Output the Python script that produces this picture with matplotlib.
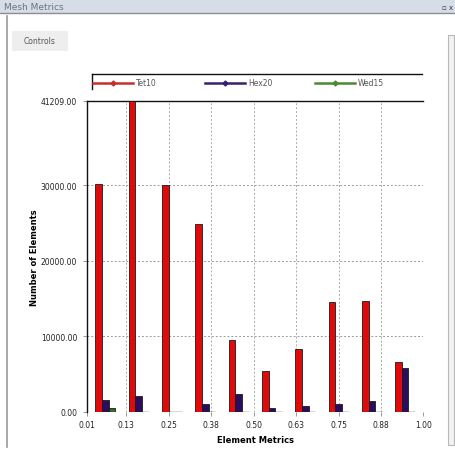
import matplotlib.pyplot as plt
import numpy as np
from matplotlib.patches import Rectangle
from matplotlib.lines import Line2D

# Mesh metrics histogram (element counts per metric bin)
series_names = ['Tet10', 'Hex20', 'Wed15']
tet10 = [30170, 41209, 30040, 24870, 9550, 5440, 8320, 14500, 14680, 6640]
hex20 = [1560, 2050, 0, 1030, 2400, 500, 730, 1030, 1390, 5800]
wed15 = [500, 0, 0, 0, 0, 0, 0, 0, 0, 0]
x_ticks = [0.01, 0.125, 0.25, 0.375, 0.5, 0.625, 0.75, 0.875, 1.0]
x_tick_labels = ['0.01', '0.13', '0.25', '0.38', '0.50', '0.63', '0.75', '0.88', '1.00']
y_ticks = [0, 10000, 20000, 30000, 41209]
y_tick_labels = ['0.00', '10000.00', '20000.00', '30000.00', '41209.00']

bar_colors = ['#e00a0a', '#2c0c5c', '#2f6e1c']
legend_colors = ['#c43030', '#3a1e74', '#4a8a30']

fig = plt.figure(figsize=(4.56, 4.52), dpi=100)

# window chrome
W, H = 456.0, 452.0
def px(x, y, w, h):
    return (x / W, 1 - (y + h) / H, w / W, h / H)

fig.patches.append(Rectangle((0, 1 - 14 / H), 1, 14 / H, transform=fig.transFigure,
                             facecolor='#d6dde6', edgecolor='none'))
fig.lines.append(Line2D([0, 1], [1 - 14 / H, 1 - 14 / H], transform=fig.transFigure,
                        color='#8a8f96', lw=1))
fig.text(4 / W, 1 - 7.5 / H, 'Mesh Metrics', fontsize=6.5, color='#6a7480',
         va='center', ha='left')
fig.text(442 / W, 1 - 7.5 / H, '\u25ab x', fontsize=5, color='#333333',
         va='center', ha='left')
# left border
fig.lines.append(Line2D([7 / W, 7 / W], [1 - 448 / H, 1 - 17 / H], transform=fig.transFigure,
                        color='#9a9a9a', lw=1.2))
# Controls button
x0, y0, w0, h0 = px(12, 32, 56, 20)
fig.patches.append(Rectangle((x0, y0), w0, h0, transform=fig.transFigure,
                             facecolor='#eeeeee', edgecolor='none'))
fig.text(40 / W, 1 - 42 / H, 'Controls', fontsize=5.5, color='#555555',
         va='center', ha='center')
# scrollbar
x0, y0, w0, h0 = px(448, 36, 6, 410)
fig.patches.append(Rectangle((x0, y0), w0, h0, transform=fig.transFigure,
                             facecolor='#f2f2f2', edgecolor='#b8b8b8', lw=0.8))

# plot area
ax = fig.add_axes([87 / W, 1 - 412.8 / H, 336.5 / W, 311.1 / H])
ax.set_xlim(0.01, 1.0)
ax.set_ylim(0, 41209)

n = len(tet10)
bin_w = 0.098
centers = 0.064 + bin_w * np.arange(n)
bw = 0.0196
for k, vals in enumerate([tet10, hex20, wed15]):
    xs = centers + (k - 1) * bw
    ax.bar(xs, vals, bw, color=bar_colors[k],
           edgecolor='#1a1a1a', linewidth=0.6, zorder=3)
    # empty bins still show a dark base line
    v = np.array(vals)
    ax.hlines(np.zeros((v == 0).sum()), xs[v == 0] - bw / 2, xs[v == 0] + bw / 2,
              color='#333333', lw=1.0, zorder=4)

ax.set_xticks(x_ticks)
ax.set_xticklabels(x_tick_labels, fontsize=5.5, color='#222222')
ax.set_yticks(y_ticks)
ax.set_yticklabels(y_tick_labels, fontsize=5.5, color='#222222')
ax.tick_params(axis='both', length=3, width=0.6, color='#888888')
ax.tick_params(axis='y', pad=4)
ax.tick_params(axis='x', pad=3)

for yv in y_ticks[1:-1]:
    ax.axhline(yv, color='#9a9a9a', lw=0.7, ls=(0, (2, 2)), zorder=1)
for xv in x_ticks[1:-1]:
    ax.axvline(xv, color='#a8a8a8', lw=0.7, ls=(0, (2, 2)), zorder=1)

for s in ['right', 'bottom']:
    ax.spines[s].set_visible(False)
ax.spines['left'].set_color('#111111')
ax.spines['top'].set_color('#111111')
ax.spines['left'].set_linewidth(1.0)
ax.spines['top'].set_linewidth(1.0)

ax.set_xlabel('Element Metrics', fontsize=6, fontweight='bold', labelpad=4)
ax.set_ylabel('Number of Elements', fontsize=6, fontweight='bold')
ax.yaxis.set_label_coords(-0.143, 0.5)

# legend strip above the plot
ly = 1 - 75 / H
fig.lines.append(Line2D([92 / W, 422 / W], [ly, ly], transform=fig.transFigure,
                        color='#111111', lw=1.0))
fig.lines.append(Line2D([92 / W, 92 / W], [1 - 90 / H, ly], transform=fig.transFigure,
                        color='#111111', lw=1.0))
item_y = 1 - 83.5 / H
for name, col, xs in zip(series_names, legend_colors, [93, 205, 315]):
    fig.lines.append(Line2D([xs / W, (xs + 40) / W], [item_y, item_y],
                            transform=fig.transFigure, color=col, lw=1.8))
    fig.lines.append(Line2D([(xs + 20) / W], [item_y], transform=fig.transFigure,
                            color=col, marker='D', markersize=2.5, lw=0))
    fig.text((xs + 43) / W, item_y, name, fontsize=5.5, color='#555555',
             va='center', ha='left')

fig.savefig('out.png', dpi=100)
